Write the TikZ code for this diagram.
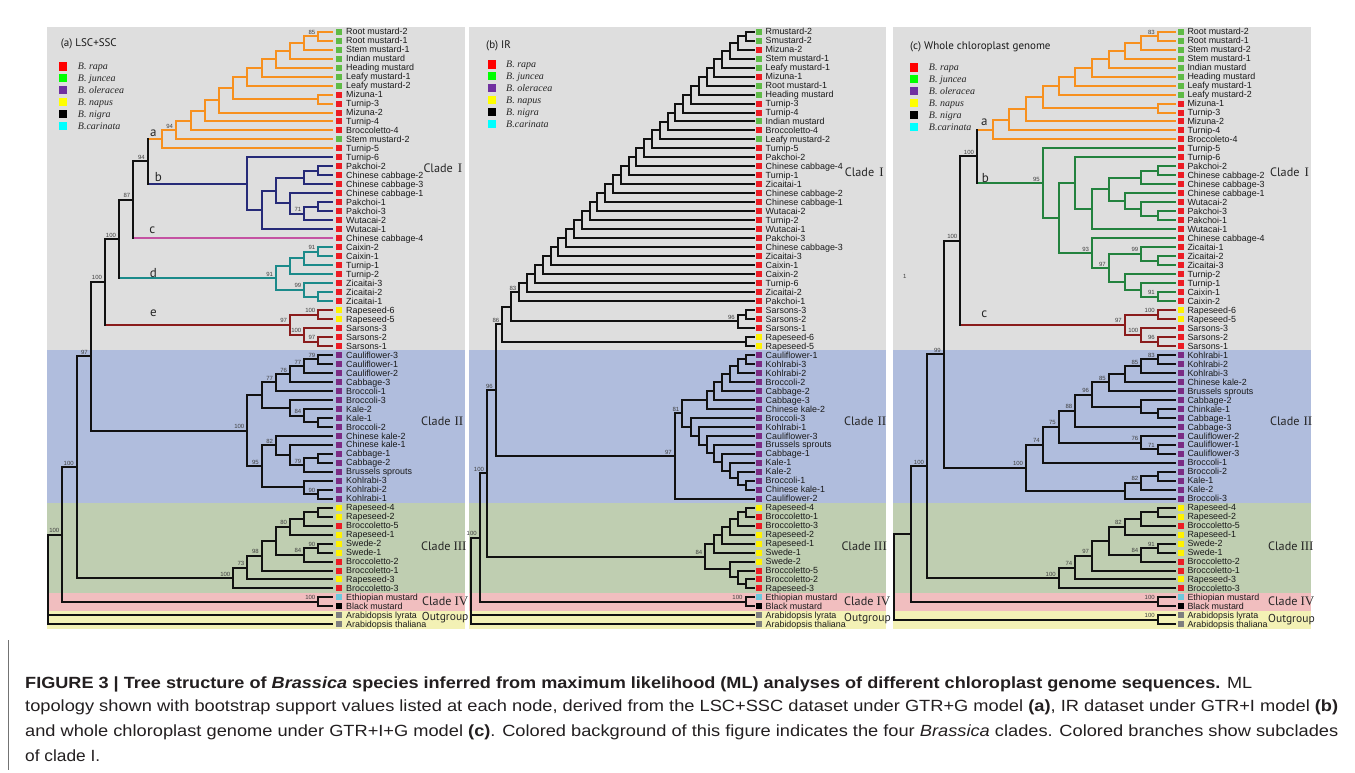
\documentclass[tikz,border=0pt]{standalone}
\usepackage{fontspec}
\usepackage{graphicx}
\setmainfont{Liberation Sans}
\newfontfamily\serifit{Liberation Serif}
\newfontfamily\ptsans{PT Sans}
\usetikzlibrary{calc}
\definecolor{bgGray}{HTML}{DEDEDE}
\definecolor{bgBlue}{HTML}{B0BDDD}
\definecolor{bgGreen}{HTML}{BFCEB1}
\definecolor{bgPink}{HTML}{F1BEBF}
\definecolor{bgYel}{HTML}{F3F1B5}
\definecolor{orA}{HTML}{F7901E}
\definecolor{navyB}{HTML}{262A78}
\definecolor{tealD}{HTML}{1B8A8A}
\definecolor{dredE}{HTML}{8A1C1C}
\definecolor{magC}{HTML}{C452A2}
\definecolor{grnB}{HTML}{23823E}
\definecolor{blk}{HTML}{111111}
\definecolor{lfR}{HTML}{ED1C24}
\definecolor{lfG}{HTML}{5FBB46}
\definecolor{lfP}{HTML}{7B2B84}
\definecolor{lfY}{HTML}{FFF200}
\definecolor{lfC}{HTML}{6CC8DC}
\definecolor{lfK}{HTML}{000000}
\definecolor{lfX}{HTML}{7F7F7F}
\definecolor{lgR}{HTML}{FF0000}
\definecolor{lgG}{HTML}{00FF00}
\definecolor{lgP}{HTML}{7030A0}
\definecolor{lgY}{HTML}{FFFF00}
\definecolor{lgK}{HTML}{000000}
\definecolor{lgC}{HTML}{00FFFF}
\definecolor{capc}{HTML}{231F20}
\newcommand\Ysto[2]{\expandafter\xdef\csname tY#1\endcsname{#2}}
\newcommand\Yof[1]{\csname tY#1\endcsname}
\newcommand\Kof[1]{\csname tK#1\endcsname}
\newcommand\Ksto[2]{\expandafter\xdef\csname tK#1\endcsname{#2}}
\newcommand\tleaf[4]{\Ysto{#1}{#2}\Ksto{#1}{}%
 \coordinate (#1) at (\tipx,#2);%
 \node[leafsq,fill=#3] (#1s) at (\sqx,#2) {};%
 \node[leaftx] (#1t) at (\txx,#2) {#4};}
\newcommand\tstem[3]{\edef\yc{\Yof{#3}}\edef\kc{\Kof{#3}}%
 \ifx\kc\empty\def\kc{#1}\fi
 \draw[br,draw=\kc] (#2,\yc) -- (#3);}
\newcommand\tnode[5]{\pgfmathsetmacro\tmpy{(\Yof{#4}+\Yof{#5})/2}%
 \Ysto{#2}{\tmpy}\Ksto{#2}{#1}%
 \coordinate (#2) at (#3,\tmpy);%
 \tstem{#1}{#3}{#4}\tstem{#1}{#3}{#5}%
 \edef\ya{\Yof{#4}}\edef\yb{\Yof{#5}}%
 \draw[br,draw=#1] (#3,\ya) -- (#3,\yb);}
\newcommand\tnodeiii[5]{%
 \tstem{#1}{#2}{#3}\tstem{#1}{#2}{#4}\tstem{#1}{#2}{#5}%
 \edef\ya{\Yof{#3}}\edef\yb{\Yof{#5}}%
 \draw[br,draw=#1] (#2,\ya) -- (#2,\yb);}
\newcommand\bsv[2]{\node[bsl] (bs#1) at (#1) {#2};}
\newcommand\lgnd[4]{%
 \foreach \k/\cl/\nm in {0/R/B. rapa,1/G/B. juncea,2/P/B. oleracea,3/Y/B. napus,4/K/B. nigra,5/C/B.carinata}{%
  \node[lgsq,fill=lg\cl] (#4s\k) at (#1,{#2+11.95*\k}) {};
  \node[lgtx] (#4t\k) at (#3,{#2+11.95*\k}) {\nm};}}
\begin{document}
\begin{tikzpicture}[x=1pt,y=-1pt,
 br/.style={line width=2pt,line cap=rect},
 leafsq/.style={draw=none,minimum size=6pt,inner sep=0pt,outer sep=0pt},
 leaftx/.style={anchor=west,inner sep=0pt,font=\fontsize{8.9}{9}\selectfont,text height=6.4pt,text depth=0pt,text=black!90},
 bsl/.style={font=\fontsize{6}{6}\selectfont,inner sep=0pt,anchor=south east,xshift=-2.8pt,yshift=1.7pt,text=black!75},
 lgsq/.style={draw=none,minimum size=8.5pt,inner sep=0pt},
 lgtx/.style={anchor=west,inner sep=0pt,font={\serifit\itshape\fontsize{10}{10}\selectfont},text height=6.6pt,text depth=0pt,text=black!85},
 ttl/.style={anchor=west,inner sep=0pt,font={\ptsans\fontsize{11}{12}\selectfont},text height=7.8pt,text depth=0pt,text=black!90},
 cladetx/.style={anchor=west,inner sep=0pt,font={\ptsans\fontsize{12.2}{13}\selectfont},text height=8.6pt,text depth=0pt,text=black!85},
 subl/.style={inner sep=0pt,font={\ptsans\fontsize{13}{13}\selectfont},text=black!85},
 capl/.style={anchor=base west,inner sep=0pt,font=\fontsize{16.2}{18}\selectfont,text=capc}]
\useasboundingbox (0,0) rectangle (1355,773);
\fill[white] (0,0) rectangle (1355,773);
\draw[black!55,line width=1pt] (8.3,640) -- (8.3,770);
\begin{scope}[y=-8.98pt,yshift=-31.7pt]
\foreach \xl/\xr in {47/465,469/886,893/1311.3}{
 \fill[bgGray] (\xl,-0.5) rectangle (\xr,35.5);
 \fill[bgBlue] (\xl,35.5) rectangle (\xr,52.5);
 \fill[bgGreen] (\xl,52.5) rectangle (\xr,62.5);
 \fill[bgPink] (\xl,62.5) rectangle (\xr,64.5);
 \fill[bgYel] (\xl,64.5) rectangle (\xr,66.5);}
% ================= panel a =================
\def\tipx{332}\def\sqx{338.7}\def\txx{346}
\foreach \ii/\cl/\tx in {0/G/Root mustard-2,1/G/Root mustard-1,2/G/Stem mustard-1,3/G/Indian mustard,4/G/Heading mustard,5/G/Leafy mustard-1,6/G/Leafy mustard-2,7/R/Mizuna-1,8/R/Turnip-3,9/R/Mizuna-2,10/R/Turnip-4,11/R/Broccoletto-4,12/G/Stem mustard-2,13/R/Turnip-5,14/R/Turnip-6,15/R/Pakchoi-2,16/R/Chinese cabbage-2,17/R/Chinese cabbage-3,18/R/Chinese cabbage-1,19/R/Pakchoi-1,20/R/Pakchoi-3,21/R/Wutacai-2,22/R/Wutacai-1,23/R/Chinese cabbage-4,24/R/Caixin-2,25/R/Caixin-1,26/R/Turnip-1,27/R/Turnip-2,28/R/Zicaitai-3,29/R/Zicaitai-2,30/R/Zicaitai-1,31/Y/Rapeseed-6,32/Y/Rapeseed-5,33/R/Sarsons-3,34/R/Sarsons-2,35/R/Sarsons-1,36/P/Cauliflower-3,37/P/Cauliflower-1,38/P/Cauliflower-2,39/P/Cabbage-3,40/P/Broccoli-1,41/P/Broccoli-3,42/P/Kale-2,43/P/Kale-1,44/P/Broccoli-2,45/P/Chinese kale-2,46/P/Chinese kale-1,47/P/Cabbage-1,48/P/Cabbage-2,49/P/Brussels sprouts,50/P/Kohlrabi-3,51/P/Kohlrabi-2,52/P/Kohlrabi-1,53/Y/Rapeseed-4,54/Y/Rapeseed-2,55/R/Broccoletto-5,56/Y/Rapeseed-1,57/Y/Swede-2,58/Y/Swede-1,59/R/Broccoletto-2,60/R/Broccoletto-1,61/Y/Rapeseed-3,62/R/Broccoletto-3,63/C/Ethiopian mustard,64/K/Black mustard,65/X/Arabidopsis lyrata,66/X/Arabidopsis thaliana}{\tleaf{a\ii}{\ii}{lf\cl}{\tx}}
\Ksto{a23}{magC}
\tnode{orA}{A1}{318.3}{a0}{a1}\bsv{A1}{85}
\tnode{orA}{A2}{304.3}{A1}{a2}
\tnode{orA}{A3}{290}{A2}{a3}
\tnode{orA}{A4}{276}{A3}{a4}
\tnode{orA}{A5}{261.7}{A4}{a5}
\tnode{orA}{A6}{247.3}{A5}{a6}
\tnode{orA}{A78}{318.3}{a7}{a8}
\tnode{orA}{A7}{233.3}{A6}{A78}
\tnode{orA}{A9}{219}{A7}{a9}
\tnode{orA}{A10}{205}{A9}{a10}
\tnode{orA}{A11}{190.7}{A10}{a11}
\tnode{orA}{A12}{176}{A11}{a12}\bsv{A12}{94}
\tnode{orA}{Aa}{161.7}{A12}{a13}
\tnode{navyB}{B1}{318.3}{a15}{a16}
\tnode{navyB}{B2}{304.3}{B1}{a17}
\tnode{navyB}{B3}{318.3}{a19}{a20}
\tnode{navyB}{B4}{304.3}{B3}{a21}\bsv{B4}{71}
\tnode{navyB}{B5}{290}{a18}{B4}
\tnode{navyB}{B6}{276}{B2}{B5}
\tnode{navyB}{B7}{261.7}{B6}{a22}
\tnode{navyB}{Bb}{247.3}{a14}{B7}
\tnode{blk}{N94}{147.7}{Aa}{Bb}\bsv{N94}{94}
\tnode{blk}{N87}{133.3}{N94}{a23}\bsv{N87}{87}
\tnode{tealD}{D1}{318.3}{a24}{a25}\bsv{D1}{91}
\tnode{tealD}{D2}{304.3}{D1}{a26}
\tnode{tealD}{D3}{290}{D2}{a27}
\tnode{tealD}{D4}{318.3}{a29}{a30}
\tnode{tealD}{D5}{304.3}{a28}{D4}\bsv{D5}{99}
\tnode{tealD}{Dd}{276}{D3}{D5}\bsv{Dd}{91}
\tnode{blk}{N100a}{119}{N87}{Dd}\bsv{N100a}{100}
\tnode{dredE}{E1}{318.3}{a31}{a32}\bsv{E1}{100}
\tnode{dredE}{E2}{318.3}{a34}{a35}\bsv{E2}{97}
\tnode{dredE}{E3}{304.3}{a33}{E2}\bsv{E3}{100}
\tnode{dredE}{Ee}{290}{E1}{E3}\bsv{Ee}{97}
\tnode{blk}{N100b}{105}{N100a}{Ee}\bsv{N100b}{100}
\tnode{blk}{P1}{318.3}{a36}{a37}\bsv{P1}{79}
\tnode{blk}{P2}{304.3}{P1}{a38}\bsv{P2}{77}
\tnode{blk}{P3}{290}{P2}{a39}\bsv{P3}{76}
\tnode{blk}{P4}{276}{P3}{a40}\bsv{P4}{77}
\tnode{blk}{P5}{318.3}{a43}{a44}
\tnode{blk}{P6}{304.3}{a42}{P5}\bsv{P6}{84}
\tnode{blk}{P7}{290}{a41}{P6}
\tnode{blk}{P8}{261.7}{P4}{P7}
\tnode{blk}{P9}{318.3}{a47}{a48}
\tnode{blk}{P10}{304.3}{P9}{a49}\bsv{P10}{79}
\tnode{blk}{P11}{290}{a46}{P10}
\tnode{blk}{P12}{276}{a45}{P11}\bsv{P12}{82}
\tnode{blk}{P13}{318.3}{a51}{a52}\bsv{P13}{90}
\tnode{blk}{P14}{304.3}{a50}{P13}
\tnode{blk}{P15}{261.7}{P12}{P14}\bsv{P15}{95}
\tnode{blk}{P2r}{247.3}{P8}{P15}\bsv{P2r}{100}
\tnode{blk}{N97}{90.7}{N100b}{P2r}\bsv{N97}{97}
\tnode{blk}{S1}{318.3}{a53}{a54}
\tnode{blk}{S2}{304.3}{S1}{a55}
\tnode{blk}{S3}{290}{S2}{a56}\bsv{S3}{80}
\tnode{blk}{S4}{318.3}{a57}{a58}\bsv{S4}{90}
\tnode{blk}{S5}{304.3}{S4}{a59}\bsv{S5}{84}
\tnode{blk}{S6}{276}{S3}{S5}
\tnode{blk}{S7}{261.7}{S6}{a60}\bsv{S7}{98}
\tnode{blk}{S8}{247.3}{S7}{a61}\bsv{S8}{73}
\tnode{blk}{S9}{233.3}{S8}{a62}\bsv{S9}{100}
\tnode{blk}{N100c}{76.7}{N97}{S9}\bsv{N100c}{100}
\tnode{blk}{C4}{318.3}{a63}{a64}\bsv{C4}{100}
\tnode{blk}{N100d}{62.3}{N100c}{C4}\bsv{N100d}{100}
\tnodeiii{blk}{48.3}{N100d}{a65}{a66}
% ================= panel b =================
\def\tipx{753.5}\def\sqx{759}\def\txx{765.5}
\foreach \ii/\cl/\tx in {0/G/Rmustard-2,1/G/Smustard-2,2/R/Mizuna-2,3/G/Stem mustard-1,4/G/Leafy mustard-1,5/R/Mizuna-1,6/G/Root mustard-1,7/G/Heading mustard,8/R/Turnip-3,9/R/Turnip-4,10/G/Indian mustard,11/R/Broccoletto-4,12/G/Leafy mustard-2,13/R/Turnip-5,14/R/Pakchoi-2,15/R/Chinese cabbage-4,16/R/Turnip-1,17/R/Zicaitai-1,18/R/Chinese cabbage-2,19/R/Chinese cabbage-1,20/R/Wutacai-2,21/R/Turnip-2,22/R/Wutacai-1,23/R/Pakchoi-3,24/R/Chinese cabbage-3,25/R/Zicaitai-3,26/R/Caixin-1,27/R/Caixin-2,28/R/Turnip-6,29/R/Zicaitai-2,30/R/Pakchoi-1,31/R/Sarsons-3,32/R/Sarsons-2,33/R/Sarsons-1,34/Y/Rapeseed-6,35/Y/Rapeseed-5,36/P/Cauliflower-1,37/P/Kohlrabi-3,38/P/Kohlrabi-2,39/P/Broccoli-2,40/P/Cabbage-2,41/P/Cabbage-3,42/P/Chinese kale-2,43/P/Broccoli-3,44/P/Kohlrabi-1,45/P/Cauliflower-3,46/P/Brussels sprouts,47/P/Cabbage-1,48/P/Kale-1,49/P/Kale-2,50/P/Broccoli-1,51/P/Chinese kale-1,52/P/Cauliflower-2,53/Y/Rapeseed-4,54/R/Broccoletto-1,55/R/Broccoletto-3,56/Y/Rapeseed-2,57/Y/Rapeseed-1,58/Y/Swede-1,59/Y/Swede-2,60/R/Broccoletto-5,61/R/Broccoletto-2,62/R/Rapeseed-3,63/C/Ethiopian mustard,64/K/Black mustard,65/X/Arabidopsis lyrata,66/X/Arabidopsis thaliana}{\tleaf{b\ii}{\ii}{lf\cl}{\tx}}
\tnode{blk}{L1}{745.5}{b0}{b1}
\foreach \j in {2,...,30}{\pgfmathtruncatemacro\jm{\j-1}\pgfmathsetmacro\xx{745.5-7.8*(\j-1)}\tnode{blk}{L\j}{\xx}{L\jm}{b\j}}
\bsv{L30}{83}
\tnode{blk}{T1}{745.5}{b31}{b32}
\tnode{blk}{T2}{737.7}{T1}{b33}\bsv{T2}{96}
\tnode{blk}{X}{510.7}{L30}{T2}
\tnode{blk}{R}{745.5}{b34}{b35}
\tnode{blk}{N86}{502.3}{X}{R}\bsv{N86}{86}
\tnode{blk}{U1}{745.5}{b36}{b37}
\tnode{blk}{U2}{737.7}{U1}{b38}
\tnode{blk}{U3}{729.9}{U2}{b39}
\tnode{blk}{U4}{722.1}{U3}{b40}
\tnode{blk}{U5}{714.3}{U4}{b41}
\tnode{blk}{U6}{706.5}{U5}{b42}
\tnode{blk}{V1}{745.5}{b50}{b51}
\tnode{blk}{V2}{737.7}{b49}{V1}
\tnode{blk}{V3}{729.9}{b48}{V2}
\tnode{blk}{V4}{722.1}{b47}{V3}
\tnode{blk}{V5}{714.3}{b46}{V4}
\tnode{blk}{V6}{706.5}{b45}{V5}
\tnode{blk}{W1}{698.7}{b44}{V6}
\tnode{blk}{W2}{690.9}{b43}{W1}
\tnode{blk}{U7}{682.3}{U6}{W2}\bsv{U7}{81}
\tnode{blk}{Q}{674.7}{U7}{b52}\bsv{Q}{97}
\tnode{blk}{N96}{495.7}{N86}{Q}\bsv{N96}{96}
\tnode{blk}{Z1}{745.5}{b53}{b54}
\tnode{blk}{Z2}{737.7}{Z1}{b55}
\tnode{blk}{Z3}{729.9}{Z2}{b56}
\tnode{blk}{Z4}{722.1}{Z3}{b57}
\tnode{blk}{Z5}{714.3}{Z4}{b58}
\tnode{blk}{Z6}{745.5}{b61}{b62}
\tnode{blk}{Z7}{737.7}{b60}{Z6}
\tnode{blk}{Z8}{729.9}{b59}{Z7}
\tnode{blk}{Z9}{705.3}{Z5}{Z8}\bsv{Z9}{84}
\tnode{blk}{M100}{487}{N96}{Z9}\bsv{M100}{100}
\tnode{blk}{F4}{745.5}{b63}{b64}\bsv{F4}{100}
\tnode{blk}{M100b}{479.7}{M100}{F4}\bsv{M100b}{100}
\tnodeiii{blk}{471.3}{M100b}{b65}{b66}
% ================= panel c =================
\def\tipx{1175.3}\def\sqx{1181}\def\txx{1187.3}
\foreach \ii/\cl/\tx in {0/G/Root mustard-2,1/G/Root mustard-1,2/G/Stem mustard-2,3/G/Stem mustard-1,4/G/Indian mustard,5/G/Heading mustard,6/G/Leafy mustard-1,7/G/Leafy mustard-2,8/R/Mizuna-1,9/R/Turnip-3,10/R/Mizuna-2,11/R/Turnip-4,12/R/Broccoleto-4,13/R/Turnip-5,14/R/Turnip-6,15/R/Pakchoi-2,16/R/Chinese cabbage-2,17/R/Chinese cabbage-3,18/R/Chinese cabbage-1,19/R/Wutacai-2,20/R/Pakchoi-3,21/R/Pakchoi-1,22/R/Wutacai-1,23/R/Chinese cabbage-4,24/R/Zicaitai-1,25/R/Zicaitai-2,26/R/Zicaitai-3,27/R/Turnip-2,28/R/Turnip-1,29/R/Caixin-1,30/R/Caixin-2,31/Y/Rapeseed-6,32/Y/Rapeseed-5,33/R/Sarsons-3,34/R/Sarsons-2,35/R/Sarsons-1,36/P/Kohlrabi-1,37/P/Kohlrabi-2,38/P/Kohlrabi-3,39/P/Chinese kale-2,40/P/Brussels sprouts,41/P/Cabbage-2,42/P/Chinkale-1,43/P/Cabbage-1,44/P/Cabbage-3,45/P/Cauliflower-2,46/P/Cauliflower-1,47/P/Cauliflower-3,48/P/Broccoli-1,49/P/Broccoli-2,50/P/Kale-1,51/P/Kale-2,52/P/Broccoli-3,53/Y/Rapeseed-4,54/Y/Rapeseed-2,55/R/Broccoletto-5,56/Y/Rapeseed-1,57/Y/Swede-2,58/Y/Swede-1,59/R/Broccoletto-2,60/R/Broccoletto-1,61/Y/Rapeseed-3,62/R/Broccoletto-3,63/C/Ethiopian mustard,64/K/Black mustard,65/X/Arabidopsis lyrata,66/X/Arabidopsis thaliana}{\tleaf{c\ii}{\ii}{lf\cl}{\tx}}
\tnode{orA}{CA1}{1157.7}{c0}{c1}\bsv{CA1}{83}
\tnode{orA}{CA2}{1141.3}{CA1}{c2}
\tnode{orA}{CA3}{1124.7}{CA2}{c3}
\tnode{orA}{CA4}{1108.7}{CA3}{c4}
\tnode{orA}{CA5}{1092}{CA4}{c5}
\tnode{orA}{CA6}{1075.3}{CA5}{c6}
\tnode{orA}{CA7}{1058.7}{CA6}{c7}
\tnode{orA}{CA8}{1157.7}{c8}{c9}
\tnode{orA}{CA9}{1042.7}{CA7}{CA8}
\tnode{orA}{CA10}{1026}{CA9}{c10}
\tnode{orA}{CA11}{1009.3}{CA10}{c11}
\tnode{orA}{CAa}{993}{CA11}{c12}
\tnode{grnB}{CB1}{1157.7}{c15}{c16}
\tnode{grnB}{CB2}{1141.3}{CB1}{c17}
\tnode{grnB}{CB3}{1157.7}{c20}{c21}
\tnode{grnB}{CB4}{1141.3}{c19}{CB3}
\tnode{grnB}{CB5}{1124.7}{c18}{CB4}
\tnode{grnB}{CB6}{1108.7}{CB2}{CB5}
\tnode{grnB}{CB7}{1092}{CB6}{c22}
\tnode{grnB}{CB8}{1075.3}{c14}{CB7}
\tnode{grnB}{CM1}{1157.7}{c25}{c26}
\tnode{grnB}{CM2}{1141.3}{c24}{CM1}\bsv{CM2}{99}
\tnode{grnB}{CM3}{1157.7}{c29}{c30}\bsv{CM3}{91}
\tnode{grnB}{CM4}{1141.3}{c28}{CM3}
\tnode{grnB}{CM5}{1124.7}{c27}{CM4}
\tnode{grnB}{CM6}{1108.7}{CM2}{CM5}\bsv{CM6}{97}
\tnode{grnB}{CM7}{1092}{c23}{CM6}\bsv{CM7}{93}
\tnode{grnB}{CB9}{1058.7}{CB8}{CM7}
\tnode{grnB}{CBb}{1042.7}{c13}{CB9}\bsv{CBb}{95}
\tnode{blk}{CN100}{977}{CAa}{CBb}\bsv{CN100}{100}
\tnode{dredE}{CC1}{1157.7}{c31}{c32}\bsv{CC1}{100}
\tnode{dredE}{CC2}{1157.7}{c34}{c35}\bsv{CC2}{96}
\tnode{dredE}{CC3}{1141.3}{c33}{CC2}\bsv{CC3}{100}
\tnode{dredE}{CCc}{1124.7}{CC1}{CC3}\bsv{CCc}{97}
\tnode{blk}{CN100b}{960.3}{CN100}{CCc}\bsv{CN100b}{100}
\tnode{blk}{CP1}{1157.7}{c36}{c37}\bsv{CP1}{83}
\tnode{blk}{CP2}{1141.3}{CP1}{c38}\bsv{CP2}{85}
\tnode{blk}{CP3}{1124.7}{CP2}{c39}
\tnode{blk}{CP4}{1108.7}{CP3}{c40}\bsv{CP4}{85}
\tnode{blk}{CP7}{1157.7}{c42}{c43}
\tnode{blk}{CP6}{1141.3}{c41}{CP7}
\tnode{blk}{CP5}{1092}{CP4}{CP6}\bsv{CP5}{96}
\tnode{blk}{CP8}{1075.3}{CP5}{c44}\bsv{CP8}{88}
\tnode{blk}{CQ1}{1157.7}{c46}{c47}\bsv{CQ1}{71}
\tnode{blk}{CQ2}{1141.3}{c45}{CQ1}\bsv{CQ2}{76}
\tnode{blk}{CP9}{1058.7}{CP8}{CQ2}\bsv{CP9}{75}
\tnode{blk}{CP11}{1042.7}{CP9}{c48}\bsv{CP11}{74}
\tnode{blk}{CR1}{1157.7}{c49}{c50}
\tnode{blk}{CR2}{1141.3}{CR1}{c51}\bsv{CR2}{82}
\tnode{blk}{CR3}{1124.7}{CR2}{c52}
\tnode{blk}{CP12}{1026}{CP11}{CR3}\bsv{CP12}{100}
\tnode{blk}{CN99}{943.7}{CN100b}{CP12}\bsv{CN99}{99}
\tnode{blk}{CS1}{1157.7}{c53}{c54}
\tnode{blk}{CS2}{1141.3}{CS1}{c55}
\tnode{blk}{CS3}{1124.7}{CS2}{c56}\bsv{CS3}{82}
\tnode{blk}{CS4}{1157.7}{c57}{c58}\bsv{CS4}{91}
\tnode{blk}{CS5}{1141.3}{CS4}{c59}\bsv{CS5}{84}
\tnode{blk}{CS6}{1108.7}{CS3}{CS5}
\tnode{blk}{CS7}{1092}{CS6}{c60}\bsv{CS7}{97}
\tnode{blk}{CS8}{1075.3}{CS7}{c61}\bsv{CS8}{74}
\tnode{blk}{CS9}{1058.7}{CS8}{c62}\bsv{CS9}{100}
\tnode{blk}{CN100c}{927}{CN99}{CS9}\bsv{CN100c}{100}
\tnode{blk}{CF4}{1157.7}{c63}{c64}\bsv{CF4}{100}
\tnode{blk}{CN}{911}{CN100c}{CF4}
\tnode{blk}{COut}{1157.7}{c65}{c66}\bsv{COut}{100}
\tnode{blk}{CRoot}{893.7}{CN}{COut}
\end{scope}
% ---------- titles and legends ----------
\node[ttl] (ta) at (60.7,42.3) {(a) LSC+SSC};
\node[ttl] (tb) at (486,45) {(b) IR};
\node[ttl] (tc) at (910,45.7) {(c) Whole chloroplast genome};
\lgnd{63}{66.3}{77.7}{lga}
\lgnd{492}{64.3}{506}{lgb}
\lgnd{914}{67.3}{928.7}{lgc}
\node[inner sep=0pt,font=\fontsize{6}{6}\selectfont,text=black!75] (one) at (904.7,276.7) {1};
% subclade letters
\node[subl] (sa) at (153.3,133.3) {a};
\node[subl] (sb) at (158.3,176.7) {b};
\node[subl] (sc) at (152.3,230) {c};
\node[subl] (sd) at (153.3,272.7) {d};
\node[subl] (se) at (153.3,313.3) {e};
\node[subl] (sca) at (984.3,122.3) {a};
\node[subl] (scb) at (985.3,178.3) {b};
\node[subl] (scc) at (984.3,314) {c};
% clade labels
\foreach \px/\pa/\pb/\pc/\pd/\yi/\yo/\nm in {423.3/421/421/422/421.7/168.3/616/a, 844.7/844/841.3/844/844/171.7/616.7/b, 1270/1270/1268/1268/1268/172.7/618.3/c}{
 \node[cladetx] (cl1\nm) at (\px,\yi) {Clade\hspace{5pt}{\serifit\fontsize{13}{13}\selectfont I}};
 \node[cladetx] (cl2\nm) at (\pa,421) {Clade\hspace{4pt}{\serifit\fontsize{13}{13}\selectfont II}};
 \node[cladetx] (cl3\nm) at (\pb,546) {Clade\hspace{3pt}{\serifit\fontsize{13}{13}\selectfont III}};
 \node[cladetx] (cl4\nm) at (\pc,600.7) {Clade\hspace{3pt}{\serifit\fontsize{13}{13}\selectfont IV}};
 \node[cladetx,font={\ptsans\fontsize{11.5}{12}\selectfont}] (og\nm) at (\pd,\yo) {Outgroup};}
% ---------- caption ----------
\node[capl] (cap1) at (25,688.3) {\resizebox{1227pt}{\height}{\textbf{FIGURE 3 | Tree structure of \textit{Brassica} species inferred from maximum likelihood (ML) analyses of different chloroplast genome sequences.} ML}};
\node[capl] (cap2) at (25,711.7) {\resizebox{1313pt}{\height}{topology shown with bootstrap support values listed at each node, derived from the LSC+SSC dataset under GTR+G model \textbf{(a)}, IR dataset under GTR+I model \textbf{(b)}}};
\node[capl] (cap3) at (25,736) {\resizebox{1313pt}{\height}{and whole chloroplast genome under GTR+I+G model \textbf{(c)}. Colored background of this figure indicates the four \textit{Brassica} clades. Colored branches show subclades}};
\node[capl] (cap4) at (25,761.7) {\resizebox{75pt}{\height}{of clade I.}};
\end{tikzpicture}
\end{document}
